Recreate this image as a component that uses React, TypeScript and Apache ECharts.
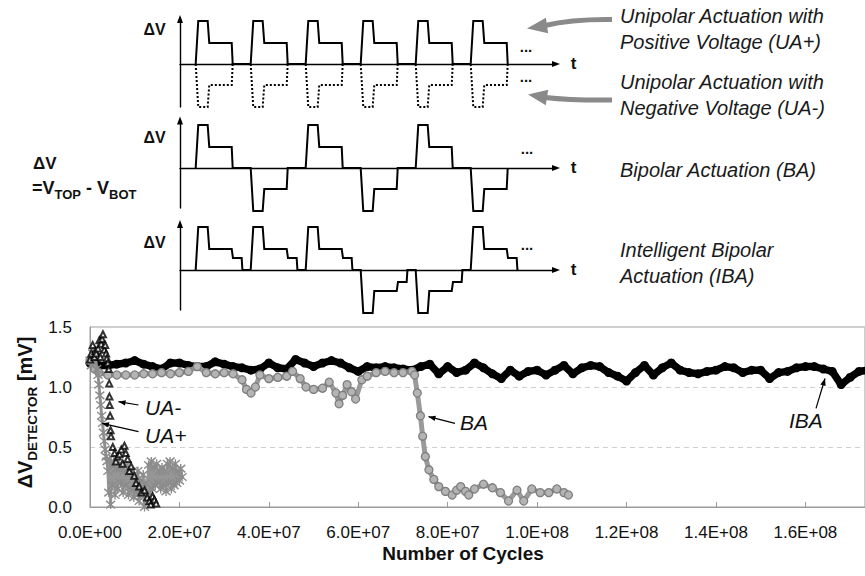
import React, { useEffect, useRef } from 'react';
import * as echarts from 'echarts';

const FONT = '"Liberation Sans", Arial, Helvetica, sans-serif';

// ---------- Main chart data: [cycles (millions), ΔV_DETECTOR (mV)] ----------
const IBA_POINTS: [number, number][] = [
  [0, 1.2], [2, 1.18], [4, 1.18], [6, 1.19], [8, 1.2], [10, 1.22], [12, 1.19], [14, 1.17], [16, 1.15], [18, 1.2],
  [20, 1.2], [22, 1.18], [24, 1.17], [26, 1.17], [28, 1.21], [30, 1.19], [32, 1.17], [34, 1.16], [36, 1.14], [38, 1.15],
  [40, 1.2], [42, 1.16], [44, 1.15], [46, 1.23], [48, 1.2], [50, 1.17], [52, 1.2], [54, 1.22], [56, 1.2], [58, 1.16],
  [60, 1.13], [62, 1.17], [64, 1.16], [66, 1.17], [68, 1.16], [70, 1.15], [72, 1.14], [74, 1.17], [76, 1.19], [78, 1.11],
  [80, 1.17], [82, 1.12], [84, 1.14], [86, 1.2], [88, 1.16], [90, 1.11], [92, 1.07], [94, 1.14], [96, 1.09], [98, 1.13],
  [100, 1.14], [102, 1.1], [104, 1.14], [106, 1.18], [108, 1.11], [110, 1.16], [112, 1.18], [114, 1.17], [116, 1.12], [118, 1.09],
  [120, 1.05], [122, 1.12], [124, 1.18], [126, 1.1], [128, 1.16], [130, 1.2], [132, 1.14], [134, 1.12], [136, 1.11], [138, 1.13],
  [140, 1.14], [142, 1.17], [144, 1.16], [146, 1.12], [148, 1.14], [150, 1.14], [152, 1.07], [154, 1.12], [156, 1.13], [158, 1.16],
  [160, 1.17], [162, 1.17], [164, 1.15], [166, 1.13], [168, 1.02], [170, 1.08], [172, 1.13], [174, 1.14],
];

const BA_POINTS: [number, number][] = [
  [0, 1.22], [1, 1.15], [2, 1.12], [4, 1.1], [6, 1.1], [8, 1.1], [10, 1.1], [12, 1.11], [14, 1.11], [16, 1.12],
  [18, 1.11], [20, 1.12], [22, 1.13], [24, 1.17], [26, 1.12], [28, 1.11], [30, 1.12], [32, 1.11], [34, 1.06], [35, 0.98],
  [36, 0.95], [37, 1.0], [38, 1.1], [40, 1.07], [42, 1.08], [44, 1.09], [45.3, 1.13], [47, 1.07], [48.3, 1.0], [50, 0.98],
  [52, 0.99], [53.5, 1.04], [55, 0.95], [55.7, 0.86], [56.5, 0.93], [57.5, 1.02], [58.5, 0.96], [59.4, 0.9], [60.8, 1.06], [62, 1.09],
  [64, 1.12], [66, 1.13], [68, 1.12], [70, 1.12], [72, 1.13], [72.6, 1.1], [73.2, 0.95], [73.9, 0.76], [74.4, 0.59], [75, 0.42],
  [75.8, 0.31], [76.9, 0.23], [78, 0.17], [79.5, 0.13], [81, 0.1], [82, 0.14], [82.9, 0.17], [84, 0.13], [84.7, 0.1], [86, 0.15],
  [88, 0.19], [90, 0.16], [91.8, 0.12], [93.6, 0.05], [95.5, 0.14], [97, 0.05], [98.8, 0.15], [100.7, 0.12], [102.6, 0.12], [104.4, 0.15],
  [106, 0.12], [107, 0.1],
];

const UA_NEG_POINTS: [number, number][] = [
  [0, 1.23], [0.3, 1.28], [0.6, 1.35], [1.0, 1.25], [1.2, 1.3], [1.4, 1.28], [1.8, 1.32], [2.1, 1.39], [2.3, 1.25], [2.5, 1.36],
  [2.7, 1.4], [2.9, 1.44], [3.2, 1.31], [3.4, 1.35], [3.6, 1.28], [3.8, 1.24], [4.0, 1.2], [4.2, 1.15], [4.3, 1.03], [4.35, 0.92],
  [4.4, 0.85], [4.5, 0.76], [4.6, 0.64], [4.7, 0.59], [5.1, 0.5], [5.5, 0.45], [5.8, 0.38], [6.2, 0.42], [6.6, 0.44], [7.0, 0.48],
  [7.3, 0.36], [7.7, 0.51], [8.0, 0.45], [8.4, 0.4], [8.8, 0.3], [9.2, 0.34], [9.9, 0.26], [10.3, 0.2], [11.0, 0.17], [11.5, 0.12],
  [12.2, 0.14], [12.8, 0.08], [13.3, 0.05], [13.6, 0.02], [14.0, 0.09], [14.4, 0.06], [14.8, 0.03],
];

const UA_POS_POINTS: [number, number][] = [
  [0, 1.22], [0.3, 1.18], [0.6, 1.28], [0.9, 1.2], [1.2, 1.25], [1.5, 1.15], [1.8, 1.1], [2.0, 1.02], [2.2, 0.93], [2.4, 0.85],
  [2.6, 0.76], [2.8, 0.7], [3.0, 0.62], [3.2, 0.55], [3.4, 0.48], [3.6, 0.42], [3.8, 0.38], [4.0, 0.3], [4.2, 0.12], [4.4, 0.4],
  [4.6, 0.02], [4.8, 0.35], [5.0, 0.18], [5.3, 0.38], [5.6, 0.1], [5.9, 0.32], [6.2, 0.15], [6.5, 0.36], [6.8, 0.2], [7.1, 0.33],
  [7.4, 0.12], [7.7, 0.3], [8.0, 0.18], [8.3, 0.35], [8.6, 0.1], [8.9, 0.28], [9.2, 0.14], [9.5, 0.3], [9.8, 0.08], [10.1, 0.25],
  [10.4, 0.12], [10.7, 0.3], [11.0, 0.05], [11.3, 0.22], [11.6, 0.1], [11.9, 0.27], [12.2, 0.0], [12.5, 0.2], [12.8, 0.08], [13.1, 0.35],
  [13.4, 0.12], [13.7, 0.38], [14.0, 0.15], [14.3, 0.33], [14.6, 0.18], [14.9, 0.36], [15.2, 0.2], [15.5, 0.3], [15.8, 0.15], [16.1, 0.33],
  [16.4, 0.18], [16.7, 0.3], [17.0, 0.13], [17.3, 0.36], [17.6, 0.2], [17.9, 0.38], [18.2, 0.15], [18.5, 0.32], [18.8, 0.18], [19.1, 0.36],
  [19.4, 0.2], [19.7, 0.3], [20.0, 0.22], [20.3, 0.32], [20.6, 0.25],
];

const X_MIN = 0;
const X_MAX = 1.7333e8;
const X_STEP = 2e7;
const Y_MIN = 0;
const Y_MAX = 1.5;
const Y_STEP = 0.5;

// ---------- Waveform schematic data (time units: one period = 10) ----------
const PULSE_STARTS = [2.85, 12.85, 22.85, 32.85, 42.85, 52.85];
const UA_PULSE_T = [0, 0.47, 2.18, 2.47, 6.55, 6.73];
const UA_PULSE_V = [0, 1, 1, 0.49, 0.49, 0];
const IBA_PULSE_T = [0, 0.47, 2.18, 2.47, 6.55, 6.78, 8.36, 8.5];
const IBA_PULSE_V = [0, 1, 1, 0.49, 0.49, 0.28, 0.28, 0];
const UA_POS_SIGNS = [1, 1, 1, 1, 1, 1];
const UA_NEG_SIGNS = [-1, -1, -1, -1, -1, -1];
const BA_SIGNS = [1, -1, 1, -1, 1, -1];
const IBA_SIGNS = [1, 1, 1, -1, -1, 1];
const DIAG_X_MAX = 68.36;

const RIGHT_LABELS = [
  'Unipolar Actuation with', 'Positive Voltage (UA+)',
  'Unipolar Actuation with', 'Negative Voltage (UA-)',
  'Bipolar Actuation (BA)',
  'Intelligent Bipolar', 'Actuation (IBA)',
];
const RIGHT_LABEL_Y = [16, 41.5, 82, 107.5, 170, 250, 275.5];

function wave(shapeT: number[], shapeV: number[], signs: number[]) {
  const pts: [number, number][] = [];
  signs.forEach((s, i) => {
    shapeT.forEach((t, j) => pts.push([PULSE_STARTS[i] + t, s * shapeV[j]]));
  });
  return pts;
}

function sci(v: number) {
  if (v === 0) return '0.0E+00';
  const e = Math.floor(Math.log10(v) + 1e-9);
  const m = v / Math.pow(10, e);
  return m.toFixed(1) + 'E+' + String(e).padStart(2, '0');
}

function toCycles(pts: [number, number][]) {
  return pts.map(([x, y]) => [x * 1e6, y]);
}

function arrowHead(x1: number, y1: number, x2: number, y2: number, len: number, w: number, fill: string) {
  const dx = x2 - x1, dy = y2 - y1;
  const d = Math.hypot(dx, dy);
  const ux = dx / d, uy = dy / d;
  const bx = x2 - ux * len, by = y2 - uy * len;
  const px = -uy, py = ux;
  return {
    type: 'polygon', z: 100,
    shape: { points: [[x2, y2], [bx + px * w / 2, by + py * w / 2], [bx - px * w / 2, by - py * w / 2]] },
    style: { fill },
  };
}

function annotArrow(x1: number, y1: number, x2: number, y2: number) {
  return [
    { type: 'line', z: 100, shape: { x1, y1, x2, y2 }, style: { stroke: '#000', lineWidth: 1.2 } },
    arrowHead(x1, y1, x2, y2, 7, 5.5, '#000'),
  ];
}

function txt(x: number, y: number, text: string, opts: any = {}) {
  return {
    type: 'text', z: 100, x, y,
    style: {
      text,
      fontFamily: FONT,
      fontSize: opts.fontSize ?? 16,
      fontWeight: opts.fontWeight ?? 'normal',
      fontStyle: opts.fontStyle ?? 'normal',
      fill: opts.fill ?? '#111',
      align: opts.align ?? 'left',
      verticalAlign: opts.verticalAlign ?? 'middle',
      rich: opts.rich,
    },
    rotation: opts.rotation ?? 0,
  };
}

const ASTERISK = 'path://M0,0L10,10M10,0L0,10M5,-1L5,11';

export default function App() {
  const ref = useRef<HTMLDivElement>(null);

  useEffect(() => {
    if (!ref.current) return;
    const chart = echarts.init(ref.current, undefined, { renderer: 'svg' });

    const diagRows = [
      { top: 19, height: 88 },
      { top: 120.5, height: 87.5 },
      { top: 224, height: 86 },
    ];
    const diagYRange = [
      { min: -1, max: 1.047 },
      { min: -0.93, max: 1.105 },
      { min: -0.93, max: 1.07 },
    ];

    const grids: any[] = [
      { left: 90, right: -2, top: 327, bottom: 69, show: true, borderColor: '#9b9b9b', borderWidth: 1, backgroundColor: 'transparent' },
      ...diagRows.map((r) => ({ left: 180, width: 376, top: r.top, height: r.height })),
    ];

    const diagAxisLine = (color = '#000') => ({
      show: true,
      onZero: true,
      symbol: ['none', 'triangle'],
      symbolSize: [6, 8],
      lineStyle: { color, width: 1.4 },
    });

    const xAxes: any[] = [
      {
        type: 'value', gridIndex: 0, min: X_MIN, max: X_MAX, interval: X_STEP,
        axisLine: { show: true, lineStyle: { color: '#9b9b9b', width: 1 } },
        axisTick: { show: true, inside: true, length: 5, lineStyle: { color: '#9b9b9b' } },
        axisLabel: { formatter: sci, fontSize: 17, color: '#111', fontFamily: FONT, margin: 17, showMaxLabel: false },
        splitLine: { show: false },
      },
      ...[1, 2, 3].map((gi) => ({
        type: 'value', gridIndex: gi, min: 0, max: DIAG_X_MAX,
        axisLine: diagAxisLine(),
        axisTick: { show: false }, axisLabel: { show: false }, splitLine: { show: false },
      })),
    ];

    const yAxes: any[] = [
      {
        type: 'value', gridIndex: 0, min: Y_MIN, max: Y_MAX, interval: Y_STEP,
        axisLine: { show: true, lineStyle: { color: '#9b9b9b', width: 1 } },
        axisTick: { show: false },
        axisLabel: { formatter: (v: number) => v.toFixed(1), fontSize: 17, color: '#111', fontFamily: FONT, margin: 18 },
        splitLine: { show: true, lineStyle: { type: [5, 4], color: '#cfcfcf', width: 1 } },
      },
      ...[1, 2, 3].map((gi) => ({
        type: 'value', gridIndex: gi, min: diagYRange[gi - 1].min, max: diagYRange[gi - 1].max,
        axisLine: diagAxisLine(),
        axisTick: { show: false }, axisLabel: { show: false }, splitLine: { show: false },
      })),
    ];

    const waveSeries = (gi: number, data: [number, number][], dashed = false) => ({
      type: 'line', xAxisIndex: gi, yAxisIndex: gi, data, symbol: 'none', clip: false,
      lineStyle: { color: '#000', width: 2, type: dashed ? [2, 2] : 'solid', join: 'miter' },
      silent: true, z: 5,
    });

    const series: any[] = [
      {
        name: 'IBA', type: 'line', xAxisIndex: 0, yAxisIndex: 0, data: toCycles(IBA_POINTS),
        symbol: 'circle', symbolSize: 9, itemStyle: { color: '#000' },
        lineStyle: { color: '#000', width: 7.5, join: 'round', cap: 'round' }, z: 2,
      },
      {
        name: 'BA', type: 'line', xAxisIndex: 0, yAxisIndex: 0, data: toCycles(BA_POINTS),
        symbol: 'circle', symbolSize: 8,
        itemStyle: { color: '#b4b4b4', borderColor: '#7e7e7e', borderWidth: 1.3 },
        lineStyle: { color: '#9a9a9a', width: 5, join: 'round', cap: 'round' }, z: 3,
      },
      {
        name: 'UA+', type: 'line', xAxisIndex: 0, yAxisIndex: 0, data: toCycles(UA_POS_POINTS),
        symbol: ASTERISK, symbolSize: 9,
        itemStyle: { color: '#8c8c8c', borderColor: '#8c8c8c', borderWidth: 1.4 },
        lineStyle: { color: '#969696', width: 3, join: 'round' }, z: 4,
      },
      {
        name: 'UA-', type: 'scatter', xAxisIndex: 0, yAxisIndex: 0, data: toCycles(UA_NEG_POINTS),
        symbol: 'emptyTriangle', symbolSize: 6, itemStyle: { color: '#000', borderWidth: 1.1 }, z: 5,
      },
      waveSeries(1, wave(UA_PULSE_T, UA_PULSE_V, UA_POS_SIGNS)),
      waveSeries(1, wave(UA_PULSE_T, UA_PULSE_V, UA_NEG_SIGNS), true),
      waveSeries(2, wave(UA_PULSE_T, UA_PULSE_V, BA_SIGNS)),
      waveSeries(3, wave(IBA_PULSE_T, IBA_PULSE_V, IBA_SIGNS)),
    ];

    const subRich = (main: number, sub: number, lh: number) => ({
      m: { fontFamily: FONT, fontSize: main, fontWeight: 'bold', fill: '#111', color: '#111', lineHeight: lh, verticalAlign: 'middle' },
      s: { fontFamily: FONT, fontSize: sub, fontWeight: 'bold', fill: '#111', color: '#111', verticalAlign: 'bottom' },
    });

    const graphic: any[] = [
      // diagram labels
      txt(154.5, 29, 'ΔV', { fontWeight: 'bold', fontSize: 16, align: 'center' }),
      txt(154.5, 137.5, 'ΔV', { fontWeight: 'bold', fontSize: 16, align: 'center' }),
      txt(154.5, 242, 'ΔV', { fontWeight: 'bold', fontSize: 16, align: 'center' }),
      txt(573.5, 63.5, 't', { fontWeight: 'bold', fontSize: 17, align: 'center' }),
      txt(573.5, 167.5, 't', { fontWeight: 'bold', fontSize: 17, align: 'center' }),
      txt(573.5, 269.5, 't', { fontWeight: 'bold', fontSize: 17, align: 'center' }),
      txt(526, 46, '...', { fontWeight: 'bold', fontSize: 15, align: 'center' }),
      txt(526, 76, '...', { fontWeight: 'bold', fontSize: 15, align: 'center' }),
      txt(527, 148, '...', { fontWeight: 'bold', fontSize: 15, align: 'center' }),
      txt(527, 244, '...', { fontWeight: 'bold', fontSize: 15, align: 'center' }),
      txt(33, 163.5, 'ΔV', { fontWeight: 'bold', fontSize: 17 }),
      txt(32, 187.5, '{m|=V}{s|TOP}{m| - V}{s|BOT}', { rich: subRich(18, 13, 26) }),
      ...RIGHT_LABELS.map((t, i) => txt(620, RIGHT_LABEL_Y[i], t, { fontStyle: 'italic', fontSize: 20, fill: '#1a1a1a' })),
      // grey curved arrows
      { type: 'bezierCurve', z: 90, shape: { x1: 612, y1: 19.5, x2: 545, y2: 25.5, cpx1: 572, cpy1: 19 }, style: { stroke: '#8a8a8a', lineWidth: 5, fill: null } },
      { type: 'polygon', z: 90, shape: { points: [[527, 28.5], [548.1, 33.2], [545.9, 17.8]] }, style: { fill: '#8a8a8a' } },
      { type: 'bezierCurve', z: 90, shape: { x1: 612, y1: 100, x2: 545, y2: 97.5, cpx1: 572, cpy1: 100.5 }, style: { stroke: '#8a8a8a', lineWidth: 5, fill: null } },
      { type: 'polygon', z: 90, shape: { points: [[528, 94.5], [548.2, 89.8], [545.8, 105.2]] }, style: { fill: '#8a8a8a' } },
      // chart annotations
      ...annotArrow(138.5, 405, 118.5, 401.7),
      ...annotArrow(138.5, 431.7, 102, 423.3),
      ...annotArrow(455, 423.3, 428.5, 416.7),
      ...annotArrow(816, 408.3, 825, 378.5),
      txt(145, 407, 'UA-', { fontStyle: 'italic', fontSize: 21 }),
      txt(145, 435, 'UA+', { fontStyle: 'italic', fontSize: 21 }),
      txt(460, 422, 'BA', { fontStyle: 'italic', fontSize: 21 }),
      txt(789, 420, 'IBA', { fontStyle: 'italic', fontSize: 21 }),
      // axis titles
      txt(463, 553.5, 'Number of Cycles', { fontWeight: 'bold', fontSize: 19, align: 'center' }),
      txt(25, 412.5, '{m|ΔV}{s|DETECTOR}{m| [mV]}', { rich: subRich(20, 13.5, 28), align: 'center', rotation: Math.PI / 2 }),
    ];

    chart.setOption({
      animation: false,
      backgroundColor: '#fff',
      textStyle: { fontFamily: FONT },
      grid: grids,
      xAxis: xAxes,
      yAxis: yAxes,
      series,
      graphic,
    });

    return () => chart.dispose();
  }, []);

  return <div ref={ref} style={{ position: 'absolute', left: 0, top: 0, width: 865, height: 576 }} />;
}
